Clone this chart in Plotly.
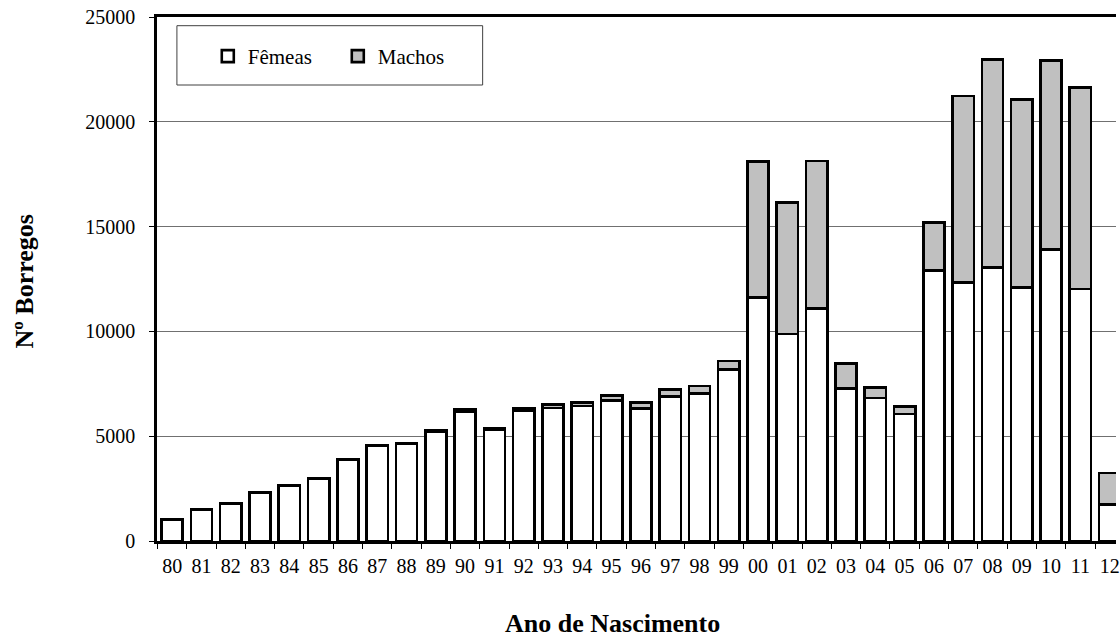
import plotly.graph_objects as go

anos = ["80", "81", "82", "83", "84", "85", "86", "87", "88", "89",
        "90", "91", "92", "93", "94", "95", "96", "97", "98", "99",
        "00", "01", "02", "03", "04", "05", "06", "07", "08", "09",
        "10", "11", "12"]

femeas = [1025, 1495, 1760, 2320, 2620, 2970, 3870, 4540, 4620, 5230,
          6150, 5290, 6200, 6350, 6440, 6710, 6320, 6900, 7030, 8190,
          11610, 9880, 11090, 7270, 6830, 6050, 12920, 12330, 13060, 12100,
          13910, 12020, 1750]

machos = [10, 15, 40, 20, 20, 20, 30, 30, 30, 70,
          120, 100, 120, 160, 180, 240, 280, 320, 370, 400,
          6510, 6280, 7040, 1190, 500, 360, 2270, 8900, 9900, 8950,
          9010, 9610, 1500]

y_ticks = [0, 5000, 10000, 15000, 20000, 25000]
y_labels = ["0", "5000", "10000", "15000", "20000", "25000"]

FONT = "Liberation Serif, Times New Roman, serif"
W, H = 1120, 638
L, R, T, B = 157, 0, 17, 97

fig = go.Figure()
fig.add_trace(go.Bar(
    x=anos, y=femeas, name="Fêmeas",
    marker=dict(color="#FFFFFF", line=dict(color="#000000", width=2.6)),
))
fig.add_trace(go.Bar(
    x=anos, y=machos, name="Machos",
    marker=dict(color="#C0C0C0", line=dict(color="#000000", width=2.6)),
))

pw = W - L - R
ph = H - T - B

def px_x(px):
    return (px - L) / pw

def px_y(py):
    return (H - B - py) / ph

fig.update_layout(
    width=W, height=H,
    margin=dict(l=L, r=R, t=T, b=B, pad=0),
    paper_bgcolor="white", plot_bgcolor="white",
    barmode="stack", bargap=0.275,
    font=dict(family=FONT, size=20, color="#000000"),
    showlegend=True,
    legend=dict(
        orientation="h", traceorder="normal",
        x=px_x(208), y=px_y(36), xanchor="left", yanchor="top",
        bgcolor="rgba(0,0,0,0)", borderwidth=0,
        font=dict(family=FONT, size=21, color="#000000"),
        entrywidth=85, entrywidthmode="pixels",
    ),
    xaxis=dict(
        type="category", range=[-0.517, 32.216],
        showline=True, linecolor="#000000", linewidth=2.5, mirror=True,
        ticks="outside", ticklen=5, tickwidth=1, tickcolor="#000000",
        tickson="boundaries", showgrid=False, zeroline=False,
        tickfont=dict(family=FONT, size=20, color="#000000"),
        ticklabelstandoff=5,
        fixedrange=True,
    ),
    yaxis=dict(
        range=[0, 25000], tickvals=y_ticks, ticktext=y_labels,
        showline=True, linecolor="#000000", linewidth=2.5, mirror=False,
        ticks="outside", ticklen=5, tickwidth=1, tickcolor="#000000",
        showgrid=True, gridcolor="#707070", gridwidth=1, zeroline=False,
        tickfont=dict(family=FONT, size=20, color="#000000"),
        ticklabelstandoff=10,
        fixedrange=True,
    ),
    shapes=[dict(
        type="rect", xref="paper", yref="paper",
        x0=px_x(177), x1=px_x(484), y0=px_y(85), y1=px_y(25.7),
        line=dict(color="#404040", width=1), fillcolor="rgba(0,0,0,0)",
        layer="above",
    )],
    annotations=[
        dict(text="<b>Ano de Nascimento</b>", xref="paper", yref="paper",
             x=px_x(614), y=px_y(623), xanchor="center", yanchor="middle",
             showarrow=False, font=dict(family=FONT, size=26, color="#000000")),
        dict(text="<b>Nº Borregos</b>", xref="paper", yref="paper",
             x=px_x(23), y=px_y(282), xanchor="center", yanchor="middle",
             textangle=-90, showarrow=False,
             font=dict(family=FONT, size=26, color="#000000")),
    ],
)

fig.write_html("out.html", config=dict(displayModeBar=False))
